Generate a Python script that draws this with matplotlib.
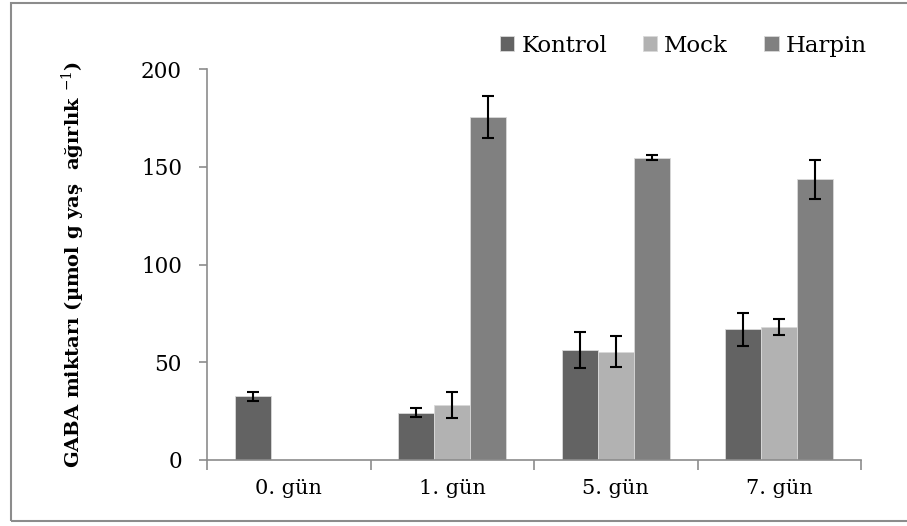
import numpy as np
import matplotlib
matplotlib.use("Agg")
import matplotlib.pyplot as plt
from matplotlib.patches import Rectangle

plt.rcParams["font.family"] = ["DejaVu Serif"]
plt.rcParams["mathtext.fontset"] = "dejavuserif"

# ─── data ────────────────────────────────────────────────────────────────────
days = ["0. gün", "1. gün", "5. gün", "7. gün"]
kontrol = [32.5, 24.2, 56.3, 66.8]
kontrol_err = [2.2, 2.4, 9.4, 8.5]
mock = [np.nan, 28.1, 55.4, 67.9]
mock_err = [np.nan, 6.8, 7.8, 4.1]
harpin = [np.nan, 175.6, 154.6, 143.6]
harpin_err = [np.nan, 10.7, 1.2, 9.9]

series = [
    ("Kontrol", kontrol, kontrol_err, "#636363"),
    ("Mock", mock, mock_err, "#b2b2b2"),
    ("Harpin", harpin, harpin_err, "#808080"),
]

# ─── figure ──────────────────────────────────────────────────────────────────
fig = plt.figure(figsize=(9.07, 5.26), dpi=100)
ax = fig.add_axes([207 / 907, 1 - 460 / 526, 654 / 907, 391 / 526])

# chart-area frame (right edge falls outside the image)
fig.patches.append(Rectangle((11 / 907, 5 / 526), 920 / 907, 518 / 526,
                             transform=fig.transFigure, fill=False,
                             edgecolor="#8c8c8c", lw=1.5))

x = np.arange(len(days))
w = 0.22
for i, (name, vals, errs, col) in enumerate(series):
    pos = x + (i - 1) * w
    ax.bar(pos, vals, width=w, color=col, edgecolor="#d9d9d9", lw=0.6,
           label=name, zorder=2)
    ax.errorbar(pos, vals, yerr=errs, fmt="none", ecolor="black",
                elinewidth=1.5, capsize=4.5, capthick=1.5, zorder=3)

ax.set_xlim(-0.5, 3.5)
ax.set_ylim(0, 200)
ax.set_yticks([0, 50, 100, 150, 200])
ax.set_xticks(x)
ax.set_xticklabels(days)
ax.set_xticks(np.arange(-0.5, 4.0, 1.0), minor=True)
ax.tick_params(axis="x", which="major", length=0, pad=14, labelsize=15)
ax.tick_params(axis="x", which="minor", length=7, width=1.2, color="#8c8c8c",
               direction="out")
ax.tick_params(axis="y", length=6, width=1.2, color="#8c8c8c",
               direction="out", labelsize=15.5, pad=12)

for s in ["top", "right"]:
    ax.spines[s].set_visible(False)
for s in ["left", "bottom"]:
    ax.spines[s].set_color("#8c8c8c")
    ax.spines[s].set_linewidth(1.2)

ax.set_ylabel(r"GABA miktarı (µmol g yaş  ağırlık $^{-1}$)",
              fontsize=14, fontweight="bold", labelpad=39)

ax.legend(loc="upper right", bbox_to_anchor=(1.04, 1.14), ncol=3,
          frameon=False, fontsize=16.5, handlelength=0.65, handleheight=0.65,
          handletextpad=0.3, columnspacing=1.55)

fig.savefig("out.png", dpi=100)
